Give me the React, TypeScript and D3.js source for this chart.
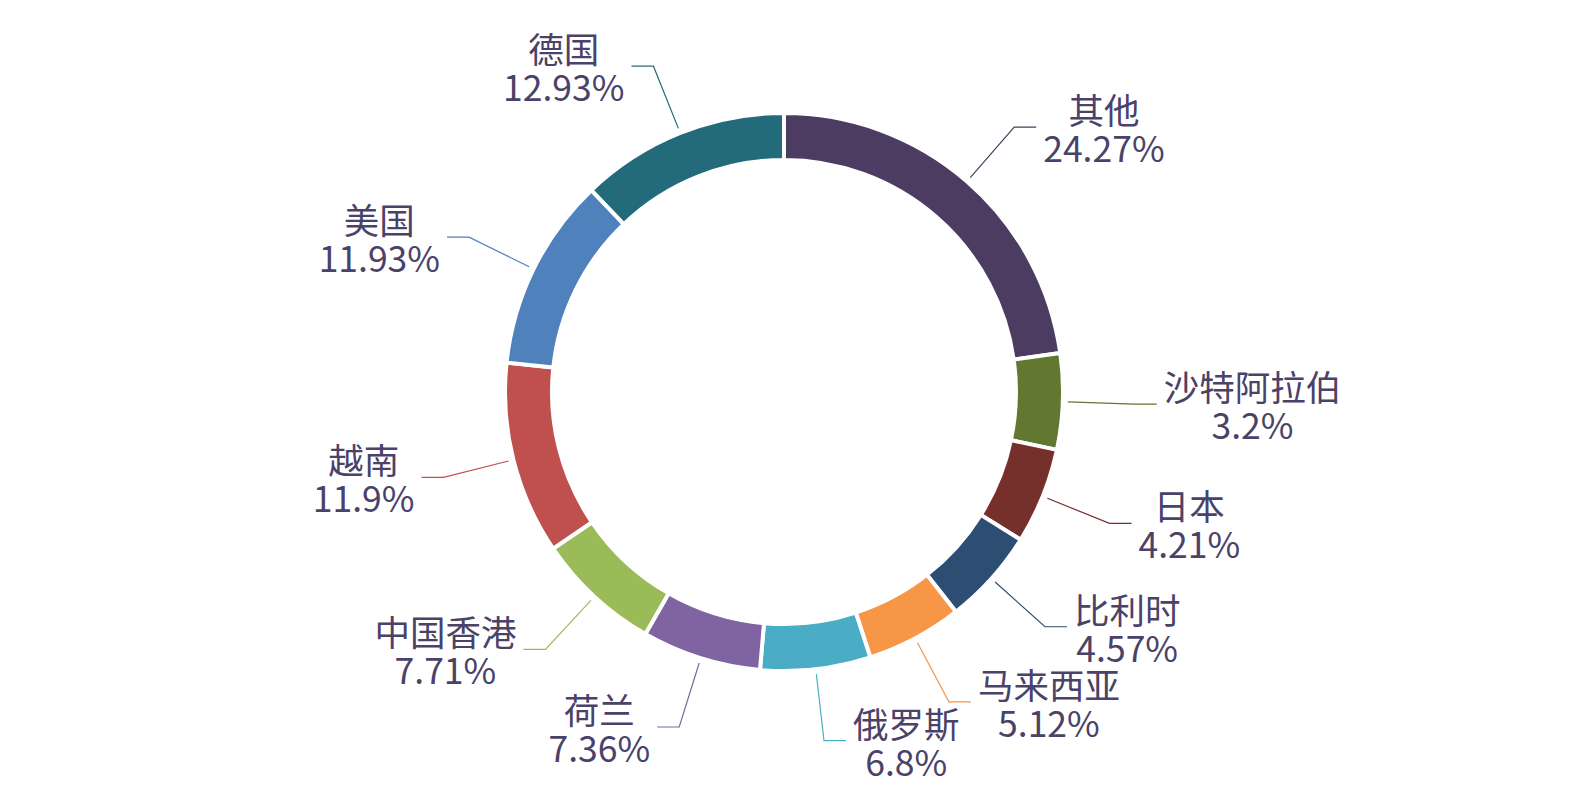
import React, { useEffect, useRef } from 'react';
import * as d3 from 'd3';

const categories = ['其他', '沙特阿拉伯', '日本', '比利时', '马来西亚', '俄罗斯', '荷兰', '中国香港', '越南', '美国', '德国'];
const shares = [24.27, 3.2, 4.21, 4.57, 5.12, 6.8, 7.36, 7.71, 11.9, 11.93, 12.93];
const shareLabels = ['24.27%', '3.2%', '4.21%', '4.57%', '5.12%', '6.8%', '7.36%', '7.71%', '11.9%', '11.93%', '12.93%'];
const colors = ['#4d3c61', '#62772f', '#76302c', '#2d4d73', '#f79646', '#4bacc6', '#8064a2', '#9bbb59', '#c0504d', '#4f81bd', '#236a7a'];

const W = 1570;
const H = 787;
const CX = 784;
const CY = 392;
const R_OUT = 279;
const R_IN = 232;
const MIN_ANGLE_DEG = 20;
const LINE_START = 284;
const LINE_KINK = 351;
const LINE_H = 22;
const TEXT_GAP = 7;
const FONT_SIZE = 35.5;
const FONT = '"Microsoft YaHei", "Noto Sans CJK SC", sans-serif';
const TEXT_COLOR = '#4a4268';

function computeAngles(values: number[]) {
  const total = d3.sum(values);
  const twoPi = Math.PI * 2;
  const minA = (MIN_ANGLE_DEG * Math.PI) / 180;
  const unit0 = twoPi / total;
  let rest = twoPi;
  let sumLarge = 0;
  const raw = values.map((v) => {
    const a = v * unit0;
    if (a < minA) {
      rest -= minA;
      return -1;
    }
    sumLarge += v;
    return a;
  });
  const unit = rest / sumLarge;
  const spans = values.map((v, i) => (raw[i] < 0 ? minA : v * unit));
  let cur = 0;
  return spans.map((s) => {
    const o = { start: cur, end: cur + s };
    cur += s;
    return o;
  });
}

export default function App() {
  const ref = useRef<SVGSVGElement | null>(null);

  useEffect(() => {
    const svg = d3.select(ref.current);
    svg.selectAll('*').remove();
    const g = svg.append('g').attr('transform', `translate(${CX},${CY})`);
    const angles = computeAngles(shares);
    const arc = d3.arc<any>().innerRadius(R_IN).outerRadius(R_OUT);

    g.selectAll('path.slice')
      .data(angles)
      .enter()
      .append('path')
      .attr('class', 'slice')
      .attr('d', (d) => arc({ startAngle: d.start, endAngle: d.end }) as string)
      .attr('fill', (_d, i) => colors[i])
      .attr('stroke', '#ffffff')
      .attr('stroke-width', 4)
      .attr('stroke-linejoin', 'round');

    const measure = (s: string) => {
      const t = svg.append('text')
        .attr('font-family', FONT)
        .attr('font-size', FONT_SIZE)
        .text(s);
      const w = (t.node() as SVGTextElement).getComputedTextLength();
      t.remove();
      return w;
    };

    angles.forEach((a, i) => {
      const m = (a.start + a.end) / 2;
      const dx = Math.sin(m);
      const dy = -Math.cos(m);
      const x1 = dx * LINE_START;
      const y1 = dy * LINE_START;
      const x2 = dx * LINE_KINK;
      const y2 = dy * LINE_KINK;
      const right = dx >= 0;
      const x3 = x2 + (right ? LINE_H : -LINE_H);
      g.append('polyline')
        .attr('points', `${x1},${y1} ${x2},${y2} ${x3},${y2}`)
        .attr('fill', 'none')
        .attr('stroke', colors[i])
        .attr('stroke-width', 1.2);

      const bw = Math.max(measure(categories[i]), measure(shareLabels[i]));
      const cx = right ? x3 + TEXT_GAP + bw / 2 : x3 - TEXT_GAP - bw / 2;
      const t = g.append('text')
        .attr('font-family', FONT)
        .attr('font-size', FONT_SIZE)
        .attr('fill', TEXT_COLOR)
        .attr('text-anchor', 'middle')
        .attr('dominant-baseline', 'central');
      t.append('tspan').attr('x', cx).attr('y', y2 - 19).text(categories[i]);
      t.append('tspan').attr('x', cx).attr('y', y2 + 19).text(shareLabels[i]);
    });
  }, []);

  return (
    <svg
      ref={ref}
      width={W}
      height={H}
      style={{ position: 'absolute', left: 0, top: 0, background: '#ffffff' }}
    />
  );
}
